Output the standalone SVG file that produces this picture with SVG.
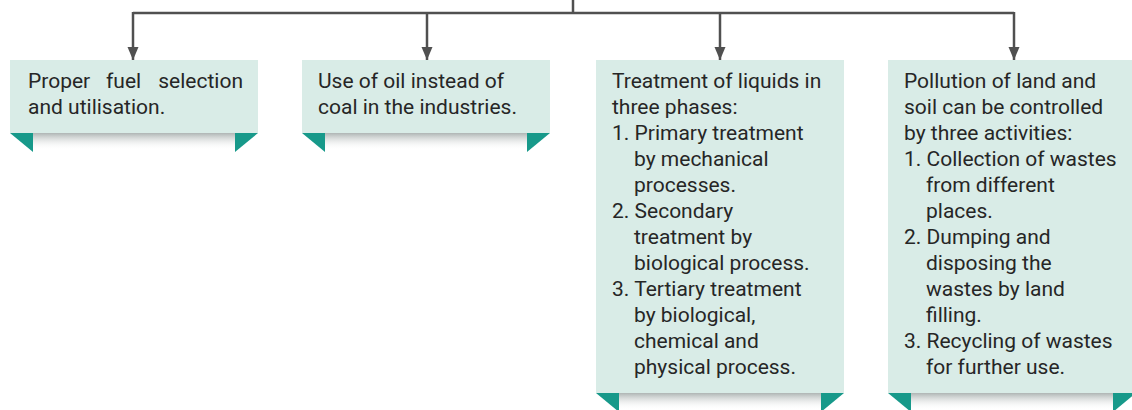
<svg xmlns="http://www.w3.org/2000/svg" width="1132" height="410" viewBox="0 0 1132 410">
  <defs>
    <style>
      .box { fill: #d9ece7; }
      .tri { fill: #17998a; }
      .shadow { fill: url(#shadowGrad); }
      .conn { stroke: #505050; stroke-width: 2.5; fill: none; }
      .txt { font-family: Roboto, "Liberation Sans", sans-serif; font-size: 21px; fill: #262626; }
    </style>
    <linearGradient id="shadowGrad" x1="0" y1="0" x2="0" y2="1">
      <stop offset="0" stop-color="#aab1b0" stop-opacity="0.95"/>
      <stop offset="1" stop-color="#ffffff" stop-opacity="0"/>
    </linearGradient>
    <marker id="arrow" markerUnits="userSpaceOnUse" markerWidth="14" markerHeight="12" refX="13" refY="6" orient="auto">
      <path d="M0,0.5 L13,6 L0,11.5 z" fill="#505050"/>
    </marker>
  </defs>

  <g id="connectors">
    <line class="conn" x1="573" y1="0" x2="573" y2="13"/>
    <line class="conn" x1="133" y1="13" x2="1014" y2="13"/>
    <line class="conn" x1="133" y1="12" x2="133" y2="60" marker-end="url(#arrow)"/>
    <line class="conn" x1="427" y1="13" x2="427" y2="60" marker-end="url(#arrow)"/>
    <line class="conn" x1="720" y1="13" x2="720" y2="60" marker-end="url(#arrow)"/>
    <line class="conn" x1="1014" y1="12" x2="1014" y2="60" marker-end="url(#arrow)"/>
  </g>

  <g id="node1">
    <rect class="shadow" x="33" y="133" width="202" height="17"/>
    <rect class="box" x="10" y="60" width="248" height="73"/>
    <polygon class="tri" points="10,133 33,133 33,152"/>
    <polygon class="tri" points="235,133 258,133 235,152"/>
    <text class="txt"><tspan x="28" y="88">Proper</tspan><tspan x="106" y="88">fuel</tspan><tspan x="243" y="88" text-anchor="end">selection</tspan></text>
    <text class="txt" x="28" y="114">and utilisation.</text>
  </g>

  <g id="node2">
    <rect class="shadow" x="325" y="133" width="202" height="17"/>
    <rect class="box" x="302" y="60" width="248" height="73"/>
    <polygon class="tri" points="302,133 325,133 325,152"/>
    <polygon class="tri" points="527,133 550,133 527,152"/>
    <text class="txt"><tspan x="318" y="88">Use of oil instead of</tspan><tspan x="318" y="114">coal in the industries.</tspan></text>
  </g>

  <g id="node3">
    <rect class="shadow" x="619" y="393" width="202" height="17"/>
    <rect class="box" x="596" y="60" width="248" height="333"/>
    <polygon class="tri" points="596,393 619,393 619,412"/>
    <polygon class="tri" points="821,393 844,393 821,412"/>
    <text class="txt">
      <tspan x="612" y="88">Treatment of liquids in</tspan>
      <tspan x="612" y="114">three phases:</tspan>
      <tspan x="612" y="140">1. Primary treatment</tspan>
      <tspan x="634" y="166">by mechanical</tspan>
      <tspan x="634" y="192">processes.</tspan>
      <tspan x="612" y="218">2. Secondary</tspan>
      <tspan x="634" y="244">treatment by</tspan>
      <tspan x="634" y="270">biological process.</tspan>
      <tspan x="612" y="296">3. Tertiary treatment</tspan>
      <tspan x="634" y="322">by biological,</tspan>
      <tspan x="634" y="348">chemical and</tspan>
      <tspan x="634" y="374">physical process.</tspan>
    </text>
  </g>

  <g id="node4">
    <rect class="shadow" x="911" y="393" width="202" height="17"/>
    <rect class="box" x="888" y="60" width="248" height="333"/>
    <polygon class="tri" points="888,393 911,393 911,412"/>
    <polygon class="tri" points="1113,393 1136,393 1113,412"/>
    <text class="txt">
      <tspan x="904" y="88">Pollution of land and</tspan>
      <tspan x="904" y="114">soil can be controlled</tspan>
      <tspan x="904" y="140">by three activities:</tspan>
      <tspan x="904" y="166">1. Collection of wastes</tspan>
      <tspan x="926" y="192">from different</tspan>
      <tspan x="926" y="218">places.</tspan>
      <tspan x="904" y="244">2. Dumping and</tspan>
      <tspan x="926" y="270">disposing the</tspan>
      <tspan x="926" y="296">wastes by land</tspan>
      <tspan x="926" y="322">filling.</tspan>
      <tspan x="904" y="348">3. Recycling of wastes</tspan>
      <tspan x="926" y="374">for further use.</tspan>
    </text>
  </g>
</svg>
